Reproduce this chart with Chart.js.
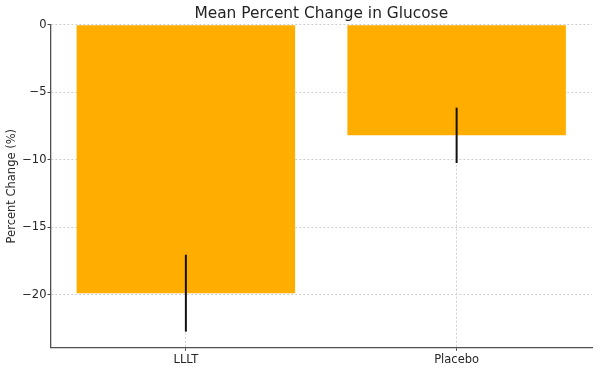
<!DOCTYPE html>
<html>
<head>
<meta charset="utf-8">
<script src="https://cdn.jsdelivr.net/npm/chart.js@4.4.1/dist/chart.umd.min.js"></script>
<style>
  html, body { margin: 0; padding: 0; background: #fff; }
  #wrap { width: 598px; height: 370px; }
</style>
</head>
<body>
<div id="wrap"><canvas id="glucoseChart" width="598" height="370"></canvas></div>
<script>
const groups = ['LLLT', 'Placebo'];
const meanChange = [-19.9, -8.2];
const errorSize = [2.85, 2.05];
const yTicks = [0, -5, -10, -15, -20];

const FONT = "'DejaVu Sans', sans-serif";
const TEXT = '#262626';

// simple vertical error bars, drawn from the y scale
const errorBars = {
  id: 'errorBars',
  afterDraw(chart) {
    const ctx = chart.ctx;
    const yScale = chart.scales.y;
    const meta = chart.getDatasetMeta(0);
    ctx.save();
    ctx.strokeStyle = '#111';
    ctx.lineWidth = 2;
    meta.data.forEach((bar, i) => {
      const top = yScale.getPixelForValue(meanChange[i] + errorSize[i]);
      const bottom = yScale.getPixelForValue(meanChange[i] - errorSize[i]);
      ctx.beginPath();
      ctx.moveTo(bar.x, top);
      ctx.lineTo(bar.x, bottom);
      ctx.stroke();
    });
    ctx.restore();
  }
};

new Chart(document.getElementById('glucoseChart'), {
  type: 'bar',
  data: {
    labels: groups,
    datasets: [{
      data: meanChange,
      backgroundColor: '#FFAE00',
      borderWidth: 0,
      categoryPercentage: 1,
      barPercentage: 0.807
    }]
  },
  options: {
    responsive: false,
    animation: false,
    layout: { padding: { left: 0, right: 6, top: 0, bottom: 0 } },
    plugins: {
      legend: { display: false },
      tooltip: { enabled: false },
      title: {
        display: true,
        text: 'Mean Percent Change in Glucose',
        fullSize: false,
        color: '#222',
        font: { family: FONT, size: 15.4, weight: 'normal' },
        padding: { top: 5, bottom: 1.2 }
      }
    },
    scales: {
      x: {
        z: 1,
        offset: true,
        grid: {
          offset: false,
          color: '#cfcfcf',
          lineWidth: 1,
          tickLength: 3,
          tickColor: '#444',
          tickWidth: 1
        },
        border: { color: '#505050', width: 1.3, dash: [2, 2] },
        ticks: {
          color: TEXT,
          padding: 2,
          font: { family: FONT, size: 11.5 }
        },
        afterFit(scale) { scale.height = 22.3; }
      },
      y: {
        z: 1,
        min: -23.94,
        max: 0,
        grid: {
          color: '#cfcfcf',
          lineWidth: 1,
          tickLength: 3,
          tickColor: '#444',
          tickWidth: 1
        },
        border: { color: '#505050', width: 1.3, dash: [2, 2] },
        ticks: {
          color: TEXT,
          padding: 1,
          font: { family: FONT, size: 11.5 }
        ,
          callback: v => String(v).replace('-', '\u2212')
        },
        afterBuildTicks(scale) {
          scale.ticks = yTicks.map(v => ({ value: v }));
        },
        afterFit(scale) { scale.width = 50.5; },
        title: {
          display: true,
          text: 'Percent Change (%)',
          color: TEXT,
          font: { family: FONT, size: 11.5 },
          padding: { top: 5.5, bottom: 0 }
        }
      }
    }
  },
  plugins: [errorBars]
});
</script>
</body>
</html>
